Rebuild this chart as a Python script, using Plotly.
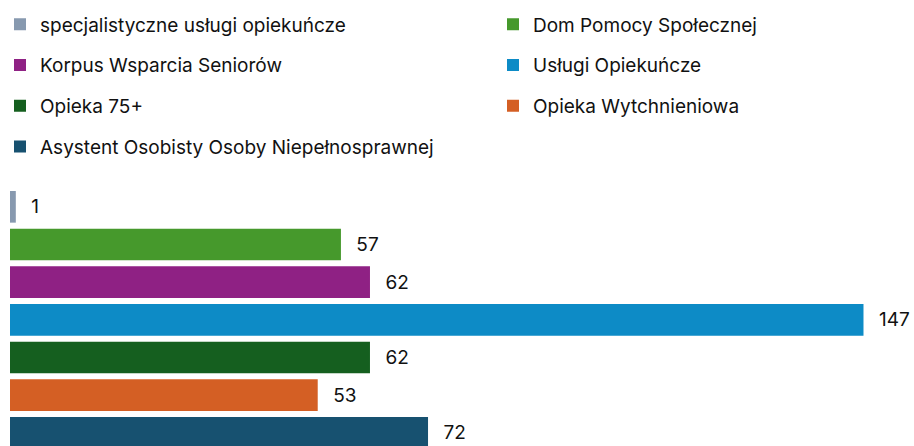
import plotly.graph_objects as go

series = [
    "specjalistyczne usługi opiekuńcze",
    "Dom Pomocy Społecznej",
    "Korpus Wsparcia Seniorów",
    "Usługi Opiekuńcze",
    "Opieka 75+",
    "Opieka Wytchnieniowa",
    "Asystent Osobisty Osoby Niepełnosprawnej",
]
values = [1, 57, 62, 147, 62, 53, 72]
colors = ["#8799AF", "#46992C", "#8F2184", "#0D8BC6", "#155F1F", "#D45F24", "#175170"]

FONT = "Inter"
FS = 19
fig = go.Figure()
for i, (name, val, col) in enumerate(zip(series, values, colors)):
    fig.add_trace(go.Bar(
        y=[name], x=[val], orientation="h", name=name,
        marker=dict(color=col, line=dict(width=0)),
        text=[val], texttemplate="\u00a0\u00a0\u200a%{x}", textposition="outside",
        textfont=dict(size=FS, color="#111111", family=FONT),
        constraintext="none", cliponaxis=False,
        legend="legend" if i % 2 == 0 else "legend2",
        legendgroup=name, showlegend=True,
    ))

W, H = 914, 446
fig.update_layout(
    width=W, height=H,
    margin=dict(l=10, r=0, t=188, b=0, autoexpand=False),
    paper_bgcolor="white", plot_bgcolor="white",
    barmode="relative", bargap=0.16,
    font=dict(family=FONT, size=FS, color="#111111"),
    xaxis=dict(range=[0, 155.7], visible=False, showgrid=False, zeroline=False),
    yaxis=dict(categoryorder="array", categoryarray=series, range=[6.35, -0.5],
               visible=False, showgrid=False, zeroline=False),
    legend=dict(x=-10 / 904, xanchor="left", yref="container", y=1 - 5.5 / H, yanchor="top",
                orientation="v", tracegroupgap=13, font=dict(size=FS, family=FONT),
                bgcolor="rgba(0,0,0,0)", borderwidth=0),
    legend2=dict(x=(493 - 10) / 904, xanchor="left", yref="container", y=1 - 5.5 / H, yanchor="top",
                 orientation="v", tracegroupgap=13, font=dict(size=FS, family=FONT),
                 bgcolor="rgba(0,0,0,0)", borderwidth=0),
    showlegend=True,
)
fig.write_html("out.html", config={"displayModeBar": False},
               post_script="document.body.style.margin='0';document.body.style.overflow='hidden';")
